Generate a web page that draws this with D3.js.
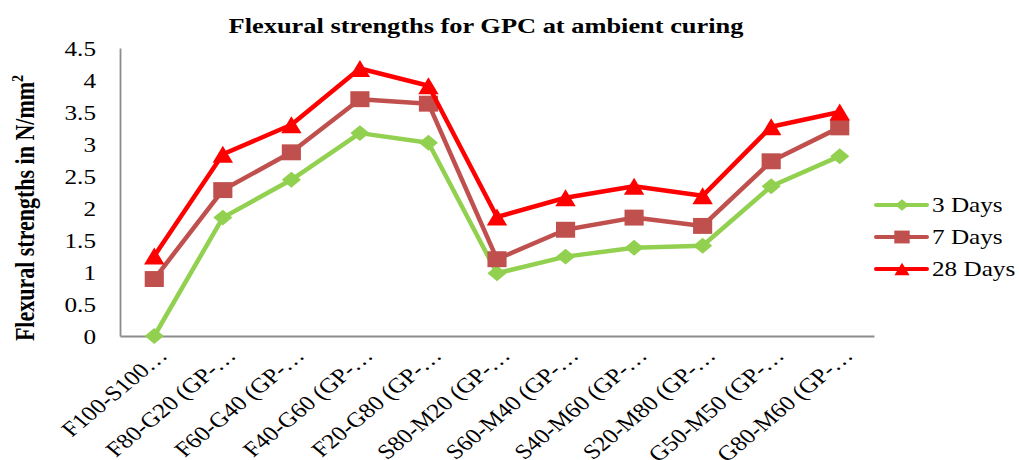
<!DOCTYPE html>
<html><head><meta charset="utf-8">
<script src="https://cdn.jsdelivr.net/npm/d3@7"></script>
<style>body{margin:0;background:#fff;} svg{display:block;}</style>
</head><body>
<svg id="chart" width="1019" height="460"></svg>
<script>
const categories = ["F100-S100…","F80-G20 (GP-…","F60-G40 (GP-…","F40-G60 (GP-…","F20-G80 (GP-…","S80-M20 (GP-…","S60-M40 (GP-…","S40-M60 (GP-…","S20-M80 (GP-…","G50-M50 (GP-…","G80-M60 (GP-…"];
const days3  = [0, 1.85, 2.44, 3.17, 3.02, 0.98, 1.24, 1.38, 1.41, 2.34, 2.81];
const days7  = [0.89, 2.28, 2.87, 3.70, 3.63, 1.20, 1.66, 1.85, 1.72, 2.73, 3.26];
const days28 = [1.25, 2.84, 3.30, 4.18, 3.91, 1.86, 2.16, 2.34, 2.19, 3.27, 3.50];
const yTicks = [0, 0.5, 1, 1.5, 2, 2.5, 3, 3.5, 4, 4.5];
const seriesNames = ["3 Days", "7 Days", "28 Days"];

(function () {
const SX = 1.2; // horizontal stretch of the original picture
const triangleBox = {
  draw(ctx, size) {
    const h = Math.sqrt(size);
    ctx.moveTo(0, -h / 2);
    ctx.lineTo(h / 2, h / 2);
    ctx.lineTo(-h / 2, h / 2);
    ctx.closePath();
  }
};
const series = [
  {name: seriesNames[0], values: days3, color: "#92D050", symbol: d3.symbolDiamond2, size: 162, legSize: 85},
  {name: seriesNames[1], values: days7, color: "#C0504D", symbol: d3.symbolSquare2, size: 324, legSize: 210},
  {name: seriesNames[2], values: days28, color: "#FF0000", symbol: triangleBox, size: 289, legSize: 160}
];

const svg = d3.select("#chart");
const mLeft = 120, mRight = 874, mTop = 48, mBottom = 336;
const font = "'Liberation Serif','Times New Roman',serif";

const x = d3.scalePoint().domain(categories).range([mLeft, mRight]).padding(0.5);
const y = d3.scaleLinear().domain([0, 4.5]).range([mBottom, mTop]);

// Title
svg.append("text").attr("transform", `translate(486,33) scale(${SX},1)`).attr("text-anchor", "middle")
  .attr("font-family", font).attr("font-weight", "bold").attr("font-size", 22)
  .text("Flexural strengths for GPC at ambient curing");

// Y axis
const yAxis = d3.axisLeft(y).tickValues(yTicks).tickSize(0).tickPadding(0).tickFormat(d3.format(""));
const gy = svg.append("g").attr("transform", `translate(${mLeft},0)`).call(yAxis);
gy.select(".domain").attr("stroke", "#8c8c8c").attr("stroke-width", 1.8);
gy.selectAll("text").attr("font-family", font).attr("font-size", 21).attr("fill", "#000")
  .attr("x", 0).attr("dy", "0.35em").attr("text-anchor", "end")
  .attr("transform", `translate(-24,0) scale(${SX},1)`);

// X axis
const xAxis = d3.axisBottom(x).tickSize(0).tickPadding(0);
const gx = svg.append("g").attr("transform", `translate(0,${mBottom})`).call(xAxis);
gx.select(".domain").attr("stroke", "#8c8c8c").attr("stroke-width", 1.8);
gx.selectAll("text")
  .attr("font-family", font).attr("font-size", 21).attr("fill", "#000")
  .attr("text-anchor", "end").attr("dy", 0).attr("y", 0)
  .attr("transform", `translate(14,21) scale(${SX},1) rotate(-45)`);

// Y axis title
svg.append("text").attr("transform", `translate(34,208) scale(${SX},1) rotate(-90)`)
  .attr("text-anchor", "middle").attr("font-family", font).attr("font-weight", "bold").attr("font-size", 22)
  .html("Flexural strengths  in N/mm<tspan dy='-9' font-size='14'>2</tspan>");

// Lines & markers
const line = d3.line().x((d, i) => x(categories[i])).y(d => y(d));
series.forEach(s => {
  svg.append("path").datum(s.values).attr("d", line)
    .attr("fill", "none").attr("stroke", s.color).attr("stroke-width", 4.5).attr("stroke-linejoin", "round");
  svg.append("g").selectAll("path").data(s.values).join("path")
    .attr("transform", (d, i) => `translate(${x(categories[i])},${y(d)}) scale(${SX},1)`)
    .attr("d", d3.symbol().type(s.symbol).size(s.size))
    .attr("fill", s.color);
});

// Legend
const legY = [205, 237, 269];
series.forEach((s, i) => {
  const g = svg.append("g").attr("transform", `translate(875,${legY[i]})`);
  g.append("line").attr("x1", 1).attr("x2", 52).attr("stroke", s.color).attr("stroke-width", 4).attr("stroke-linecap", "round");
  g.append("path").attr("transform", `translate(27,0) scale(${SX},1)`).attr("d", d3.symbol().type(s.symbol).size(s.legSize)).attr("fill", s.color);
  g.append("text").attr("transform", `translate(57,0) scale(${SX},1)`).attr("dy", "0.35em")
    .attr("font-family", font).attr("font-size", 21).text(s.name);
});
})();
</script>
</body></html>
